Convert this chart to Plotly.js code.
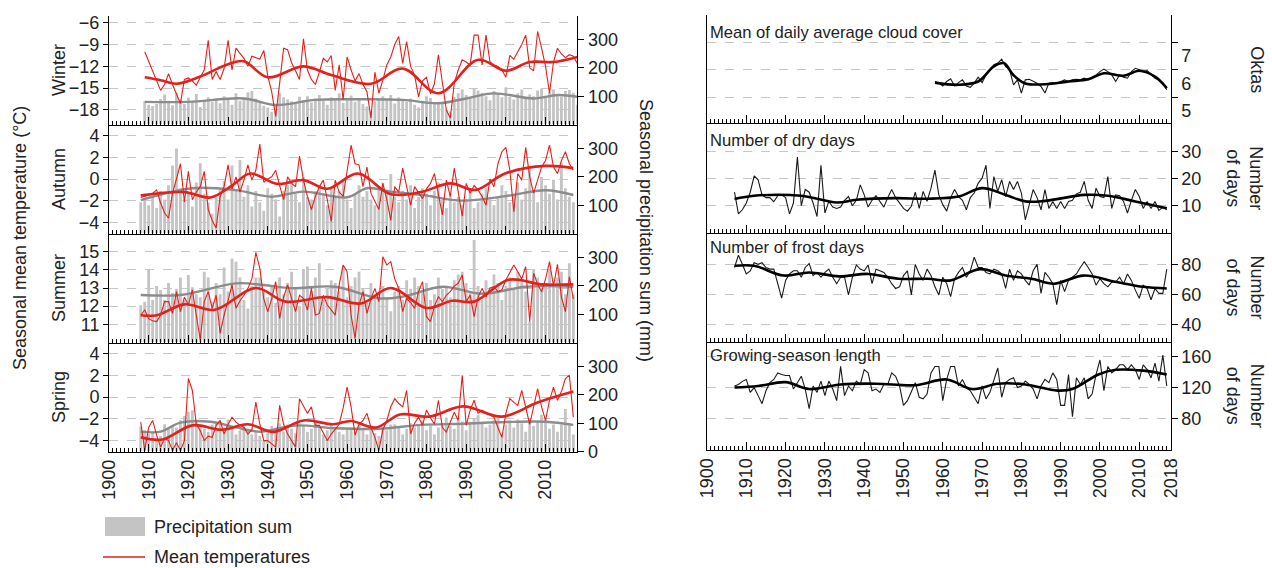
<!DOCTYPE html>
<html><head><meta charset="utf-8">
<script src="https://cdn.plot.ly/plotly-3.0.1.min.js"></script>
<style>body{margin:0;background:#fff}#chart{width:1272px;height:568px}</style>
</head><body><div id="chart"></div>
<script>
// ---------------- DATA ----------------
// Left: seasonal mean temperature (°C) and precipitation sum (mm)
const winterStart = 1909;
const winterTemp = [-10.0,-11.3,-12.7,-14.0,-15.3,-14.5,-13.0,-14.5,-15.8,-17.1,
-13.8,-13.6,-14.0,-14.6,-13.5,-12.5,-8.4,-13.8,-12.7,-13.8,
-12.3,-8.4,-12.5,-9.5,-10.2,-10.9,-12.0,-10.6,-10.8,-11.0,
-9.8,-13.3,-15.5,-18.9,-14.3,-9.5,-9.7,-11.5,-12.6,-13.8,
-8.2,-12.5,-13.8,-14.5,-12.8,-10.9,-11.4,-10.5,-15.3,-11.8,
-16.6,-10.7,-12.5,-14.0,-13.0,-14.5,-15.5,-19.1,-12.8,-15.7,
-13.9,-11.8,-10.7,-9.0,-7.9,-11.6,-8.6,-12.0,-13.2,-16.2,
-14.0,-13.5,-15.8,-14.4,-10.4,-14.0,-18.0,-19.1,-14.3,-12.5,
-11.1,-11.4,-11.8,-7.7,-7.7,-11.8,-7.7,-11.4,-11.8,-12.0,
-12.5,-13.5,-10.5,-11.0,-10.0,-9.0,-7.7,-12.2,-12.6,-7.2,
-9.5,-12.0,-15.7,-11.4,-9.5,-10.3,-10.8,-10.4,-10.6,-11.6];
const winterPrcp = [82,70,65,72,90,106,84,68,112,88,
72,95,80,108,62,86,96,80,92,75,
100,88,70,110,84,95,114,118,92,78,
66,60,45,70,110,96,88,82,74,98,
86,100,78,92,104,84,70,96,88,110,
76,90,102,80,94,72,64,48,82,90,
100,86,104,74,96,88,80,92,70,60,
84,100,94,76,80,72,52,46,96,110,
124,104,96,128,120,112,100,86,118,108,
96,132,98,88,110,124,92,106,100,120,
126,96,114,124,108,98,118,122,112,70];
const winterTempSmoothYears = [1909,1913,1917,1923,1930,1934,1940,1949,1956,1966,1974,1983,1993,2000,2006,2012,2018];
const winterTempSmooth = [-13.5,-13.9,-14.4,-13.4,-11.7,-11.3,-13.5,-12.0,-13.2,-14.4,-12.3,-15.7,-11.1,-12.6,-11.4,-11.4,-10.7];
const winterPrcpSmoothYears = [1909,1920,1934,1942,1952,1962,1974,1983,1990,1997,2007,2013,2018];
const winterPrcpSmooth = [80,80,92,69,87,89,87,75,92,110,92,104,98];

const autumnStart = 1908;
const autumnTemp = [-1.7,-1.6,-1.5,-1.3,-1.0,-2.2,-3.1,-3.6,-1.3,0.0,
1.4,-2.1,0.7,-1.9,-1.2,-0.7,0.7,-2.8,-3.8,-4.5,
-1.6,-0.7,1.3,-0.9,0.2,-1.2,-0.1,1.3,-0.1,0.8,
3.2,-0.3,0.0,0.2,0.8,-0.6,-1.9,0.2,-0.4,-0.7,
2.1,-0.1,-1.6,-2.8,-1.6,-0.7,-0.1,-1.9,-3.9,-0.1,
-1.2,-1.6,0.8,3.1,1.4,1.3,-0.7,1.1,-1.3,-2.1,
-2.8,-0.4,-1.9,-3.8,-0.7,-1.2,1.0,-0.7,-2.4,-0.7,
-1.2,-1.8,-0.9,-0.4,0.5,-1.6,-3.3,-0.1,-1.6,1.0,
-1.3,-3.4,-0.4,-1.3,-0.6,-1.0,-1.6,-2.4,0.0,-0.7,
1.4,2.5,2.9,0.8,-3.0,0.5,-0.1,2.9,0.2,-1.3,
-0.1,1.1,1.7,3.1,1.1,0.5,1.7,2.5,1.4,0.8];
const autumnPrcp = [110,118,100,135,90,150,120,170,240,300,
160,120,140,95,180,248,140,110,70,130,
160,185,120,240,150,260,130,170,95,150,
110,80,160,140,120,60,150,170,180,140,
110,200,130,120,150,170,140,100,160,130,
150,190,120,90,140,170,130,150,120,100,
160,180,140,210,130,110,150,120,170,90,
130,160,140,100,150,180,120,90,140,110,
130,100,120,150,90,110,140,160,120,100,
130,170,150,110,140,180,120,160,230,150,
110,200,170,140,190,120,250,160,130,110];
const autumnTempSmoothYears = [1908,1919,1925.5,1931,1935.6,1942.5,1949,1955,1962.7,1971,1978.6,1986,1992.4,1999.8,2010,2017];
const autumnTempSmooth = [-1.5,-1.2,-1.7,-0.6,0.5,-0.45,-0.1,-0.9,0.5,-1.4,-1.2,-0.4,-1.0,0.5,1.2,1.0];
const autumnPrcpSmoothYears = [1908,1921,1932,1941,1949,1960,1965,1971,1979,1989,2000,2010,2017];
const autumnPrcpSmooth = [118,160,153,130,148,128,160,148,136,116,132,153,136];

const summerStart = 1908;
const summerTemp = [11.5,11.8,11.3,11.2,11.15,11.5,12.25,12.25,11.6,12.8,
11.7,12.5,12.06,12.9,11.5,10.14,12.25,12.8,11.88,12.6,
10.5,11.5,12.3,13.17,11.88,12.3,12.6,12.98,13.5,14.96,
14.08,12.4,11.7,12.4,13.35,11.33,12.5,13.17,12.43,11.7,
12.6,12.43,11.79,12.98,11.51,11.6,12.6,12.06,11.8,11.51,
13.17,14.27,13.9,11.5,10.23,12.06,12.8,11.6,12.4,12.98,
12.25,14.72,14.27,14.45,13.5,12.98,11.7,12.43,12.2,11.88,
12.8,13.35,11.42,11.15,12.0,12.52,12.25,12.6,12.8,13.1,
13.26,13.72,12.25,12.61,11.42,12.5,12.98,12.52,13.0,13.07,
12.8,12.9,13.44,13.9,14.27,13.9,13.5,14.17,11.15,13.81,
13.2,12.8,13.5,14.45,13.1,14.3,12.5,11.7,13.62,12.4];
const summerPrcp = [132,144,256,150,200,185,150,210,175,190,
230,150,238,195,170,160,250,230,145,210,
170,265,180,297,285,230,150,120,200,230,
230,180,160,200,140,230,170,210,250,190,
130,260,268,180,230,280,150,190,220,210,
180,270,160,200,230,250,190,140,210,170,
180,200,160,110,180,200,150,220,190,230,
200,180,210,150,170,230,190,200,160,220,
240,250,210,180,362,200,160,220,180,240,
210,150,200,230,190,250,220,180,73,260,
230,190,210,260,200,230,250,170,280,170];
const summerTempSmoothYears = [1908,1912,1919,1926.6,1937,1944.5,1955,1963.5,1971,1980,1986.5,1992,2000.7,2009,2017];
const summerTempSmooth = [11.5,11.5,12.1,11.8,13.0,12.25,12.5,12.15,13.0,11.9,12.3,12.25,13.45,13.2,13.2];
const summerPrcpSmoothYears = [1908,1918,1932,1939,1946,1957,1968,1974,1984,1994,2005,2017];
const summerPrcpSmooth = [168,168,209,203,192,197,156,162,197,172,197,197];

const springStart = 1908;
const springTemp = [-2.3,-4.9,-2.8,-2.15,-3.5,-4.6,-3.8,-4.0,-4.9,-4.2,
-4.9,-4.0,1.7,0.6,-2.5,-3.1,-4.0,-3.6,-3.7,-2.6,
-2.15,-3.4,-2.5,-1.85,-2.3,-2.6,-2.8,-3.4,-3.0,-0.46,
-2.5,-4.0,-4.0,-4.3,-4.6,-0.77,-2.5,-3.4,-4.0,-4.6,
-0.15,-0.9,-1.5,-0.9,-2.6,-2.6,-3.3,-4.0,-3.4,-3.0,
-2.5,-1.0,0.9,-0.9,-3.5,-2.5,-2.15,-1.5,-2.8,-3.7,
-4.9,-3.0,-2.15,-0.9,-0.15,-0.6,-0.9,0.6,-3.4,-2.4,
-1.85,-2.6,-1.2,-1.9,-2.5,-0.3,-2.8,-3.2,-2.2,-1.4,
-2.15,2.0,-2.6,-1.2,-0.3,-1.5,-1.2,-1.4,-1.6,-1.85,
-2.8,-3.7,-1.5,-0.15,-0.5,-0.77,0.6,-0.9,-2.5,-0.9,
0.77,-0.9,-2.15,-0.3,0.9,-0.3,0.5,1.7,2.0,-1.85];
const springPrcp = [88,75,62,70,40,55,96,80,90,85,
110,125,140,146,105,90,80,70,95,100,
107,85,113,90,60,75,100,80,60,70,
55,40,75,90,85,100,70,95,80,65,
100,90,70,80,105,85,60,75,95,80,
70,60,80,85,70,95,80,60,75,65,
55,85,75,95,96,90,60,80,100,85,
95,110,75,90,60,85,100,120,90,80,
110,107,75,105,115,130,100,85,95,110,
120,60,95,110,85,113,100,70,115,90,
105,130,113,80,95,70,95,150,100,60];
const springTempSmoothYears = [1908,1913.5,1921,1928.5,1935,1941.5,1949,1956.5,1961,1967.3,1973.3,1980.7,1989.2,1999,2008,2017];
const springTempSmooth = [-3.7,-3.9,-2.6,-3.0,-2.5,-3.2,-2.15,-2.5,-2.2,-2.8,-1.6,-1.8,-0.86,-1.8,-0.5,0.5];
const springPrcpSmoothYears = [1908,1913,1918,1925.6,1932,1938.3,1946.8,1957,1968,1978.6,1989,1999.8,2010,2017];
const springPrcpSmooth = [70,70,102,105,85,70,92,82,80,94,98,104,105,94];

// Right: annual indices
const cloudStart = 1958;
const cloudCover = [6.07,6.01,5.91,6.07,6.17,5.91,6.03,6.13,5.91,5.86,
6.01,6.23,6.03,6.31,6.5,6.68,6.74,6.88,6.61,6.5,
5.95,6.13,5.65,6.13,6.15,6.07,6.01,5.89,5.65,6.01,
6.03,6.01,6.07,6.13,6.07,6.13,6.15,6.13,6.19,6.13,
6.23,6.31,6.43,6.52,6.43,6.31,6.07,6.31,6.23,6.19,
6.43,6.55,6.5,6.43,6.47,6.31,6.19,6.13,6.03,5.77];
const cloudSmoothYears = [1958,1964,1969,1973,1975.5,1978,1981,1987,1992,1997,2001,2006,2010,2014,2017];
const cloudSmooth = [6.03,5.95,6.07,6.62,6.74,6.3,6.0,5.98,6.07,6.15,6.37,6.28,6.46,6.25,5.83];

const indexStart = 1907;
const dryDays = [15,7,8.5,11,15,21,19.6,14,13,13,
11.5,13.7,14,13,7,11,28,10,16,15,
11,6,25,7.3,11.6,9.5,9,9.5,12,13.4,
10,12,17.7,14,9.5,12,13.7,11.6,9.5,13,
16,13,11,9,8,9.8,15,9,15.3,11.6,
16.5,23.2,14,10.4,8,13,16,13.4,12,8.5,
13,14.7,18.3,20.2,25,9,20.8,15.3,19.6,13.4,
19,16,19,14.7,4.8,10.4,16,13,8.5,16,
9,11.6,9,11.6,9,11.6,12,14.4,15,19,
12,9,16.5,13.4,13,20.8,9,14,13.7,11.6,
7.3,12,16,13.4,9,11.6,9,11.6,8.3,9.5,8.5];
const drySmoothYears = [1907,1912,1924,1933,1938,1948,1956,1964,1970,1976,1981,1986,1996,2002,2009,2017];
const drySmooth = [12.5,13.7,13.7,11.2,12.2,12.8,12.6,13.4,16.5,14,11.6,11.8,14,13.7,11.6,9.1];

const frostDays = [78.3,86.5,80.4,74,76,81.5,80.4,81.5,78.3,77.2,
77.2,67.5,57.8,69.7,74,76.1,76.1,71.8,78.3,80.9,
72.9,75,71.8,75,77.2,71.8,67.5,71.8,71.8,60,
71.8,80,77.2,76.1,80,67.5,77.2,76.1,75,71.8,
67.5,64.3,65.4,72.9,76.1,60,80.4,74,69.7,77.2,
72.9,65.4,60,71.8,67.5,58.9,70.8,75,78.3,71.8,
76.1,85.2,78.3,78.3,75,74,77.2,76.1,74,64.3,
77.2,69.7,76.1,74,69.7,66.5,76.1,80.4,61,75,
71.8,67.5,53.5,69.7,62.2,69.7,71.8,74,78.3,82.2,
78.3,74,66.5,70.8,67.5,65.4,68.6,68.6,71.8,67.5,
74,69.7,63.2,57.8,66.5,64.3,56.8,64.3,61,61,77.2];
const frostSmoothYears = [1907,1912,1919.5,1926,1933.6,1941,1948.7,1956.2,1962,1969.4,1976,1982.6,1988.3,1995.8,2004.3,2011,2017];
const frostSmooth = [79.4,79.4,72.9,75,72.4,74,70.8,70.8,69.7,77.2,73,70.8,67.5,72.9,68.6,65.4,64.3];

const growingSeason = [122,124,128,130.5,113.7,120,109.5,99,115.8,126.3,
130.5,139,136.8,135.6,135.6,118,126.3,134.7,118,92.6,
122,113.7,128.4,109.5,128.4,118,103,147.4,109.5,122,
115.8,128.4,124,143.2,139,115.8,118,113.7,124,124,
139,134.7,122,96.8,103,113.7,126.3,107.4,105.3,111.6,
139,147.4,147.4,103,130.5,147.4,147.4,122,130.5,120,
115.8,107.4,99,122,105.3,113.7,130.5,145.3,107.4,126.3,
130.5,132.6,120,122,128.4,124,118,105.3,122,130.5,
126.3,139,130.5,96.8,96.8,136.8,82,132.6,124,132.6,
105.3,111.6,136.8,155.8,115.8,147.4,139,143.2,149.5,149.5,
143.2,149.5,143.2,130.5,149.5,143.2,132.6,151.6,128.4,162,122];
const growingSmoothYears = [1907,1913,1920,1926,1934,1943,1953,1961,1967.5,1974,1981,1989.2,1993,1999.6,2004,2011,2017];
const growingSmooth = [120,122,127,118,124,125,123,130.5,118,125,124,116,118,137,143,142,137];

const leftYearTicks = [1900,1910,1920,1930,1940,1950,1960,1970,1980,1990,2000,2010];
const rightYearTicks = [1900,1910,1920,1930,1940,1950,1960,1970,1980,1990,2000,2010,2018];

// ---------------- BUILD ----------------
const W = 1272, H = 568;
const FONT = 'Liberation Sans, Arial, sans-serif';
const RED = '#e3201b';
const yrs = (s, n) => Array.from({length: n}, (_, i) => s + i);
const px = x => x / W;
const py = y => 1 - y / H;
const key = (p, n) => n === 1 ? p : p + n;
const ref = (p, n) => n === 1 ? p : p + n;

const layout = {
  width: W, height: H, margin: {l: 0, r: 0, t: 0, b: 0},
  paper_bgcolor: '#fff', plot_bgcolor: 'rgba(0,0,0,0)',
  showlegend: false, barmode: 'overlay',
  font: {family: FONT, size: 18, color: '#222'},
  annotations: [], shapes: []
};
const data = [];

function note(text, x, y, opts) {
  layout.annotations.push(Object.assign({
    text, x: px(x), y: py(y), xref: 'paper', yref: 'paper', showarrow: false,
    xanchor: 'center', yanchor: 'middle', font: {size: 18, color: '#222'}
  }, opts || {}));
}

const LEFT_X = [px(109), px(577.3)];
const RIGHT_X = [px(707), px(1170.7)];
const gridStyle = {showgrid: true, gridcolor: '#c6c6c6', griddash: 'dash', gridwidth: 1};

function xAxis(domain, anchor, vals, showLabels) {
  return {
    domain, anchor, range: [1900, 2018], showline: true, linecolor: '#000', linewidth: 1,
    ticks: 'inside', tickmode: 'array', tickvals: vals, ticklen: 8, tickcolor: '#000', tickwidth: 1,
    minor: {ticks: 'inside', ticklen: 4, dtick: 1, tick0: 1900, tickcolor: '#000', showgrid: false},
    showgrid: false, zeroline: false, showticklabels: showLabels, tickangle: -90,
    tickfont: {size: 18, color: '#222'}
  };
}

const leftPanels = [
  {label: 'Winter', top: 15.5, bot: 124.5, start: winterStart, temp: winterTemp, prcp: winterPrcp,
   tsx: winterTempSmoothYears, tsy: winterTempSmooth, psx: winterPrcpSmoothYears, psy: winterPrcpSmooth,
   range: [-20, -5], tvals: [-18, -15, -12, -9, -6], pvals: [100, 200, 300]},
  {label: 'Autumn', top: 124.5, bot: 233.5, start: autumnStart, temp: autumnTemp, prcp: autumnPrcp,
   tsx: autumnTempSmoothYears, tsy: autumnTempSmooth, psx: autumnPrcpSmoothYears, psy: autumnPrcpSmooth,
   range: [-5, 5], tvals: [-4, -2, 0, 2, 4], pvals: [100, 200, 300]},
  {label: 'Summer', top: 233.5, bot: 342.5, start: summerStart, temp: summerTemp, prcp: summerPrcp,
   tsx: summerTempSmoothYears, tsy: summerTempSmooth, psx: summerPrcpSmoothYears, psy: summerPrcpSmooth,
   range: [10, 16], tvals: [11, 12, 13, 14, 15], pvals: [100, 200, 300]},
  {label: 'Spring', top: 342.5, bot: 451.5, start: springStart, temp: springTemp, prcp: springPrcp,
   tsx: springTempSmoothYears, tsy: springTempSmooth, psx: springPrcpSmoothYears, psy: springPrcpSmooth,
   range: [-5, 5], tvals: [-4, -2, 0, 2, 4], pvals: [0, 100, 200, 300]}
];

leftPanels.forEach((p, i) => {
  const xn = i + 1, pn = 2 * i + 1, tn = 2 * i + 2;
  const dom = [py(p.bot), py(p.top)];
  layout[key('xaxis', xn)] = xAxis(LEFT_X, ref('y', pn), leftYearTicks, i === 3);
  layout[key('yaxis', pn)] = {
    domain: dom, anchor: ref('x', xn), side: 'right', range: [0, 385],
    tickmode: 'array', tickvals: p.pvals, ticks: 'outside', ticklen: 6, tickcolor: '#000',
    showline: true, linecolor: '#000', showgrid: false, zeroline: false, tickfont: {size: 18}
  };
  layout[key('yaxis', tn)] = Object.assign({
    domain: dom, anchor: ref('x', xn), overlaying: ref('y', pn), side: 'left', range: p.range,
    tickmode: 'array', tickvals: p.tvals, ticks: 'outside', ticklen: 5, tickcolor: '#000',
    showline: true, linecolor: '#000', zeroline: false, tickfont: {size: 18}
  }, gridStyle);
  const years = yrs(p.start, p.prcp.length);
  const xr = ref('x', xn), pr = ref('y', pn), tr = ref('y', tn);
  data.push({type: 'bar', x: years, y: p.prcp, xaxis: xr, yaxis: pr, width: 0.72,
    marker: {color: '#c4c4c4', line: {width: 0}}, hoverinfo: 'skip'});
  data.push({type: 'scatter', mode: 'lines', x: p.psx, y: p.psy, xaxis: xr, yaxis: pr,
    line: {color: '#8c8c8c', width: 2.4, shape: 'spline', smoothing: 1}});
  data.push({type: 'scatter', mode: 'lines', x: yrs(p.start, p.temp.length), y: p.temp, xaxis: xr, yaxis: tr,
    line: {color: RED, width: 1.1}});
  data.push({type: 'scatter', mode: 'lines', x: p.tsx, y: p.tsy, xaxis: xr, yaxis: tr,
    line: {color: RED, width: 2.6, shape: 'spline', smoothing: 1}});
  note(p.label, 59, (p.top + p.bot) / 2, {textangle: -90});
});

const rightPanels = [
  {title: 'Mean of daily average cloud cover', top: 15, bot: 123.3, start: cloudStart, vals: cloudCover,
   sx: cloudSmoothYears, sy: cloudSmooth, range: [4.55, 8.49], tvals: [5.5, 6.5, 7.5], ty: 33, unit: 'Oktas'},
  {title: 'Number of dry days', top: 123.3, bot: 233.3, start: indexStart, vals: dryDays,
   sx: drySmoothYears, sy: drySmooth, range: [-0.2, 40.5], tvals: [10, 20, 30], ty: 141, unit: 'Number<br>of days'},
  {title: 'Number of frost days', top: 233.3, bot: 341.7, start: indexStart, vals: frostDays,
   sx: frostSmoothYears, sy: frostSmooth, range: [28.8, 101.1], tvals: [40, 60, 80], ty: 248, unit: 'Number<br>of days'},
  {title: 'Growing-season length', top: 341.7, bot: 450, start: indexStart, vals: growingSeason,
   sx: growingSmoothYears, sy: growingSmooth, range: [38.9, 179.5], tvals: [80, 120, 160], ty: 355, unit: 'Number<br>of days'}
];

rightPanels.forEach((p, i) => {
  const xn = 5 + i, yn = 9 + i;
  const dom = [py(p.bot), py(p.top)];
  layout[key('xaxis', xn)] = xAxis(RIGHT_X, ref('y', yn), rightYearTicks, i === 3);
  layout[key('yaxis', yn)] = Object.assign({
    domain: dom, anchor: ref('x', xn), side: 'right', range: p.range, mirror: true,
    tickmode: 'array', tickvals: p.tvals, ticks: 'outside', ticklen: 6, tickcolor: '#000',
    showline: true, linecolor: '#000', zeroline: false, tickfont: {size: 18},
    showticklabels: i !== 0
  }, gridStyle);
  const xr = ref('x', xn), yr = ref('y', yn);
  data.push({type: 'scatter', mode: 'lines', x: yrs(p.start, p.vals.length), y: p.vals, xaxis: xr, yaxis: yr,
    line: {color: '#1a1a1a', width: 1.1}});
  data.push({type: 'scatter', mode: 'lines', x: p.sx, y: p.sy, xaxis: xr, yaxis: yr,
    line: {color: '#000', width: 2.6, shape: 'spline', smoothing: 1}});
  note(p.title, 708, p.ty, {xanchor: 'left', font: {size: 16.6, color: '#222'}});
  note(p.unit, i === 0 ? 1257 : 1245, (p.top + p.bot) / 2, {textangle: 90});
});
// cloud labels (placed between the dashed lines, as in the source figure)
layout.yaxis13 = {
  domain: [py(123.3), py(15)], anchor: 'x5', overlaying: 'y9', side: 'right', range: [4.55, 8.49],
  tickmode: 'array', tickvals: [5, 6, 7], ticks: 'outside', ticklen: 6, tickcolor: 'rgba(0,0,0,0)',
  showline: false, showgrid: false, zeroline: false, tickfont: {size: 18}
};
data.push({type: 'scatter', mode: 'lines', x: [], y: [], xaxis: 'x5', yaxis: 'y13'});

// axis titles
note('Seasonal mean temperature (°C)', 20, 238, {textangle: -90});
note('Seasonal precipitation sum (mm)', 646, 230, {textangle: 90});

// legend
layout.shapes.push({type: 'rect', xref: 'paper', yref: 'paper', x0: px(105), x1: px(145), y0: py(536), y1: py(517),
  fillcolor: '#c4c4c4', line: {width: 0}});
layout.shapes.push({type: 'line', xref: 'paper', yref: 'paper', x0: px(103), x1: px(145), y0: py(557), y1: py(557),
  line: {color: RED, width: 1.5}});
note('Precipitation sum', 152, 527, {xanchor: 'left'});
note('Mean temperatures', 152, 557, {xanchor: 'left'});

Plotly.newPlot('chart', data, layout, {staticPlot: true, displayModeBar: false});
</script></body></html>
